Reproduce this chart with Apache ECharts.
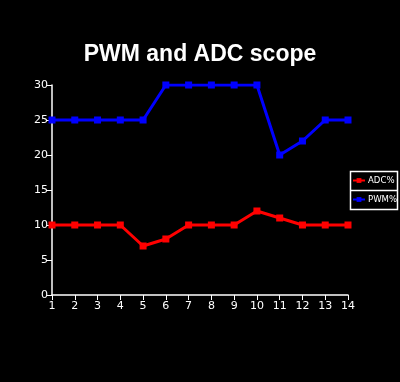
<!DOCTYPE html>
<html><head><meta charset="utf-8">
<script src="https://cdn.jsdelivr.net/npm/echarts@6/dist/echarts.min.js"></script>
<style>html,body{margin:0;padding:0;background:#000}#c{width:400px;height:382px}</style>
</head><body><div id="c"></div>
<script>
const categories = ['1','2','3','4','5','6','7','8','9','10','11','12','13','14'];
const adcValues = [10,10,10,10,7,8,10,10,10,12,11,10,10,10];
const pwmValues = [25,25,25,25,25,30,30,30,30,30,20,22,25,25];
const yTicks = [0,5,10,15,20,25,30];

const chart = echarts.init(document.getElementById('c'), null, {renderer:'canvas'});
chart.setOption({
  backgroundColor:'#000',
  animation:false,
  title:{text:'PWM and ADC scope', left:'center', top:38,
    textStyle:{color:'#fff', fontSize:23, fontWeight:'bold', fontFamily:'Liberation Sans'}},
  grid:{left:52, right:52, top:85, bottom:87, containLabel:false},
  legend:{orient:'vertical', left:352, top:175,
    data:['ADC%','PWM%'], borderWidth:0, padding:0,
    itemGap:8, itemWidth:12, itemHeight:6,
    textStyle:{color:'#fff', fontSize:9.5, lineHeight:11, fontFamily:'DejaVu Sans Condensed', padding:[0,0,0,-2]}},
  xAxis:{type:'category', data:categories, boundaryGap:false,
    axisLine:{lineStyle:{color:'#fff', width:1.5}},
    axisTick:{show:true, alignWithLabel:true, length:5, lineStyle:{color:'#fff'}},
    axisLabel:{color:'#fff', fontSize:11, fontFamily:'DejaVu Sans', margin:6},
    splitLine:{show:false}},
  yAxis:{type:'value', min:yTicks[0], max:yTicks[yTicks.length-1], interval:5,
    axisLine:{show:true, lineStyle:{color:'#fff', width:1.5}},
    axisTick:{show:true, length:5, lineStyle:{color:'#fff'}},
    axisLabel:{color:'#fff', fontSize:11, fontFamily:'DejaVu Sans', margin:4},
    splitLine:{show:false}},
  series:[
    {name:'ADC%', type:'line', data:adcValues, color:'#ff0000', symbol:'rect', symbolSize:7,
      lineStyle:{width:3, color:'#ff0000'}, itemStyle:{color:'#ff0000'}},
    {name:'PWM%', type:'line', data:pwmValues, color:'#0000ff', symbol:'rect', symbolSize:7,
      lineStyle:{width:3, color:'#0000ff'}, itemStyle:{color:'#0000ff'}}
  ],
  graphic:[
    {type:'rect', shape:{x:350.5, y:171.5, width:47, height:38}, style:{fill:null, stroke:'#fff', lineWidth:1.5}},
    {type:'line', shape:{x1:350, y1:190.5, x2:398, y2:190.5}, style:{stroke:'#fff', lineWidth:1.5}}
  ]
});
</script></body></html>
